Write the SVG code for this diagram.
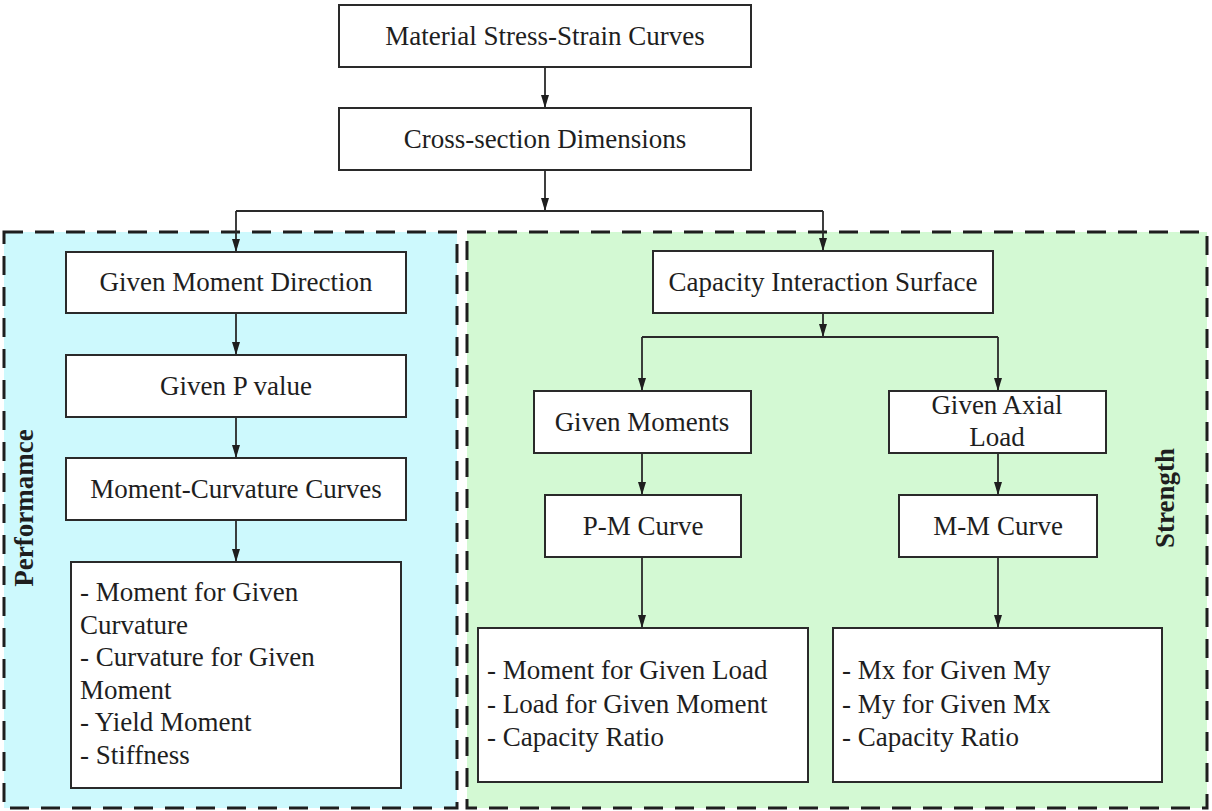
<svg xmlns="http://www.w3.org/2000/svg" width="1212" height="811" viewBox="0 0 1212 811">
<style>
.box{fill:#ffffff;stroke:#2a2a2a;stroke-width:2}
.t{font-family:"Liberation Serif","Times New Roman",serif;font-size:27px;fill:#1e1e1e}
.c{text-anchor:middle}
.lbl{font-family:"Liberation Serif","Times New Roman",serif;font-size:27px;font-weight:bold;fill:#1e1e1e;text-anchor:middle}
.region{stroke:#1e1e1e;stroke-width:3;stroke-dasharray:19 12}
.conn{fill:none;stroke:#2a2a2a;stroke-width:1.8}
</style>
<defs>
<marker id="ah" markerUnits="userSpaceOnUse" markerWidth="10" markerHeight="14" refX="5" refY="13" orient="auto-start-reverse" viewBox="0 0 10 14">
<path d="M0,0 L10,0 L5,13 Z" fill="#1e1e1e" transform="rotate(0)"/>
</marker>
<marker id="ad" markerUnits="userSpaceOnUse" markerWidth="14" markerHeight="10" refX="13" refY="5" orient="auto" viewBox="0 0 14 10">
<path d="M0,1 L13,5 L0,9 Z" fill="#1e1e1e"/>
</marker>
</defs>
<rect width="1212" height="811" fill="#ffffff"/>
<g id="region-performance">
<rect class="region" x="4" y="232" width="453" height="576" fill="#cdf9fd"/>
<text class="lbl" transform="translate(33,508) rotate(-90)">Performamce</text>
</g>
<g id="region-strength">
<rect class="region" x="467" y="232" width="740" height="576" fill="#d3f9d3"/>
<text class="lbl" transform="translate(1174,498) rotate(-90)">Strength</text>
</g>
<g id="connectors">
<path class="conn" d="M545,67 V108" marker-end="url(#ad)"/>
<path class="conn" d="M545,170 V211" marker-end="url(#ad)"/>
<path class="conn" d="M236,211 H823"/>
<path class="conn" d="M236,211 V252" marker-end="url(#ad)"/>
<path class="conn" d="M823,211 V251" marker-end="url(#ad)"/>
<path class="conn" d="M236,313 V355" marker-end="url(#ad)"/>
<path class="conn" d="M236,417 V458" marker-end="url(#ad)"/>
<path class="conn" d="M236,520 V562" marker-end="url(#ad)"/>
<path class="conn" d="M823,313 V337" marker-end="url(#ad)"/>
<path class="conn" d="M642,337 H998"/>
<path class="conn" d="M642,337 V391" marker-end="url(#ad)"/>
<path class="conn" d="M998,337 V391" marker-end="url(#ad)"/>
<path class="conn" d="M642,453 V495" marker-end="url(#ad)"/>
<path class="conn" d="M998,453 V495" marker-end="url(#ad)"/>
<path class="conn" d="M642,557 V628" marker-end="url(#ad)"/>
<path class="conn" d="M998,557 V628" marker-end="url(#ad)"/>
</g>
<g id="n-material">
<rect class="box" x="339" y="5" width="412" height="62"/>
<text class="t c" x="545" y="45">Material Stress-Strain Curves</text>
</g>
<g id="n-cross-section">
<rect class="box" x="339" y="108" width="412" height="62"/>
<text class="t c" x="545" y="148">Cross-section Dimensions</text>
</g>
<g id="n-moment-direction">
<rect class="box" x="66" y="252" width="340" height="61"/>
<text class="t c" x="236" y="291">Given Moment Direction</text>
</g>
<g id="n-p-value">
<rect class="box" x="66" y="355" width="340" height="62"/>
<text class="t c" x="236" y="395">Given P value</text>
</g>
<g id="n-moment-curvature">
<rect class="box" x="66" y="458" width="340" height="62"/>
<text class="t c" x="236" y="498">Moment-Curvature Curves</text>
</g>
<g id="n-perf-results">
<rect class="box" x="71" y="562" width="330" height="226"/>
<text class="t" x="80" y="601">- Moment for Given</text>
<text class="t" x="80" y="634">Curvature</text>
<text class="t" x="80" y="666">- Curvature for Given</text>
<text class="t" x="80" y="699">Moment</text>
<text class="t" x="80" y="731">- Yield Moment</text>
<text class="t" x="80" y="764">- Stiffness</text>
</g>
<g id="n-capacity-surface">
<rect class="box" x="653" y="251" width="340" height="62"/>
<text class="t c" x="823" y="291">Capacity Interaction Surface</text>
</g>
<g id="n-given-moments">
<rect class="box" x="534" y="391" width="217" height="62"/>
<text class="t c" x="642" y="431">Given Moments</text>
</g>
<g id="n-given-axial">
<rect class="box" x="889" y="391" width="217" height="62"/>
<text class="t c" x="997" y="414">Given Axial</text>
<text class="t c" x="997" y="446">Load</text>
</g>
<g id="n-pm-curve">
<rect class="box" x="545" y="495" width="196" height="62"/>
<text class="t c" x="643" y="535">P-M Curve</text>
</g>
<g id="n-mm-curve">
<rect class="box" x="899" y="495" width="198" height="62"/>
<text class="t c" x="998" y="535">M-M Curve</text>
</g>
<g id="n-pm-results">
<rect class="box" x="478" y="628" width="330" height="154"/>
<text class="t" x="487" y="679">- Moment for Given Load</text>
<text class="t" x="487" y="713">- Load for Given Moment</text>
<text class="t" x="487" y="746">- Capacity Ratio</text>
</g>
<g id="n-mm-results">
<rect class="box" x="833" y="628" width="329" height="154"/>
<text class="t" x="842" y="679">- Mx for Given My</text>
<text class="t" x="842" y="713">- My for Given Mx</text>
<text class="t" x="842" y="746">- Capacity Ratio</text>
</g>
</svg>
